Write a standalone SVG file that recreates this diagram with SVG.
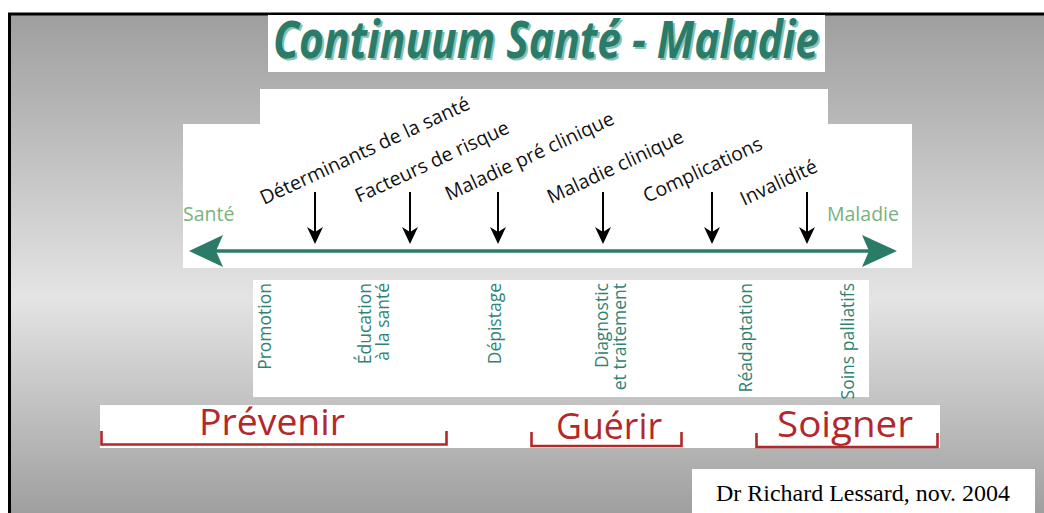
<svg xmlns="http://www.w3.org/2000/svg" width="1044" height="513" viewBox="0 0 1044 513">
  <defs>
    <linearGradient id="bg" x1="0" y1="13" x2="0" y2="513" gradientUnits="userSpaceOnUse">
      <stop offset="0" stop-color="#9e9e9e"/>
      <stop offset="0.57" stop-color="#e4e4e4"/>
      <stop offset="1" stop-color="#9f9f9f"/>
    </linearGradient>
  </defs>
  <style>
    .white{fill:#ffffff}
    .rot{font-family:"Open Sans","Noto Sans",sans-serif;font-size:19.5px;fill:#111111}
    .vert{font-family:"Open Sans","Noto Sans",sans-serif;font-size:17.5px;fill:#2f8373;text-anchor:end}
    .end{font-family:"Open Sans","Noto Sans",sans-serif;font-size:19.5px;fill:#78b27c}
    .red{font-family:"Open Sans","Noto Sans",sans-serif;font-size:36px;fill:#b3282a;text-anchor:middle}
    .ttl{font-family:"Open Sans","Noto Sans",sans-serif;font-size:52px;font-weight:bold;font-style:italic;text-anchor:middle}
    .brk{fill:none;stroke:#b3282a;stroke-width:2.6}
    .dline{stroke:#000000;stroke-width:2}
    .dhead{fill:#000000}
    .axis{stroke:#2b7b69;stroke-width:3.5}
    .ahead{fill:#2b7b69}
  </style>

  <rect x="0" y="0" width="1044" height="513" fill="#ffffff"/>
  <rect x="9" y="13" width="1035" height="500" fill="url(#bg)"/>
  <path d="M9.5,513 V14 H1044" fill="none" stroke="#000000" stroke-width="3"/>

  <g id="title">
    <rect class="white" x="268" y="15" width="557" height="57"/>
    <text class="ttl" x="548" y="60" fill="#8cc2b2" textLength="546" lengthAdjust="spacingAndGlyphs">Continuum Santé - Maladie</text>
    <text class="ttl" x="546" y="58" fill="#2a7c6a" textLength="546" lengthAdjust="spacingAndGlyphs">Continuum Santé - Maladie</text>
  </g>

  <g id="timeline-panel">
    <rect class="white" x="260" y="89" width="568" height="40"/>
    <rect class="white" x="183" y="124" width="729" height="144"/>
  </g>

  <g id="sante">
    <text class="end" x="183" y="221">Santé</text>
  </g>
  <g id="maladie">
    <text class="end" x="827" y="221">Maladie</text>
  </g>

  <g id="determinants">
    <text class="rot" transform="translate(264,205) rotate(-25)">Déterminants de la santé</text>
  </g>
  <g id="facteurs">
    <text class="rot" transform="translate(359,203) rotate(-25)">Facteurs de risque</text>
  </g>
  <g id="preclinique">
    <text class="rot" transform="translate(449,201) rotate(-25)">Maladie pré clinique</text>
  </g>
  <g id="clinique">
    <text class="rot" transform="translate(551,204) rotate(-25)">Maladie clinique</text>
  </g>
  <g id="complications">
    <text class="rot" transform="translate(647,203) rotate(-25)">Complications</text>
  </g>
  <g id="invalidite">
    <text class="rot" transform="translate(744,206) rotate(-25)">Invalidité</text>
  </g>

  <g id="connectors">
    <g class="axis-arrow">
      <line class="axis" x1="212" y1="251" x2="874" y2="251"/>
      <path class="ahead" d="M189,251 L223,235 L216,251 L223,267 Z"/>
      <path class="ahead" d="M897,251 L862,235 L869,251 L862,267 Z"/>
    </g>
    <g class="down-arrows">
      <line class="dline" x1="315" y1="192" x2="315" y2="234"/>
      <path class="dhead" d="M315,244 L307,227 L315,232 L323,227 Z"/>
      <line class="dline" x1="410" y1="192" x2="410" y2="234"/>
      <path class="dhead" d="M410,244 L402,227 L410,232 L418,227 Z"/>
      <line class="dline" x1="498" y1="192" x2="498" y2="234"/>
      <path class="dhead" d="M498,244 L490,227 L498,232 L506,227 Z"/>
      <line class="dline" x1="603" y1="192" x2="603" y2="234"/>
      <path class="dhead" d="M603,244 L595,227 L603,232 L611,227 Z"/>
      <line class="dline" x1="712" y1="192" x2="712" y2="234"/>
      <path class="dhead" d="M712,244 L704,227 L712,232 L720,227 Z"/>
      <line class="dline" x1="807" y1="192" x2="807" y2="234"/>
      <path class="dhead" d="M807,244 L799,227 L807,232 L815,227 Z"/>
    </g>
  </g>

  <g id="actions-panel">
    <rect class="white" x="253" y="280" width="616" height="117"/>
  </g>
  <g id="promotion">
    <text class="vert" transform="translate(271,283) rotate(-90)">Promotion</text>
  </g>
  <g id="education">
    <text class="vert" transform="translate(371,283) rotate(-90)">Éducation</text>
    <text class="vert" transform="translate(389,283) rotate(-90)">à la santé</text>
  </g>
  <g id="depistage">
    <text class="vert" transform="translate(501,283) rotate(-90)">Dépistage</text>
  </g>
  <g id="diagnostic">
    <text class="vert" transform="translate(608,283) rotate(-90)">Diagnostic</text>
    <text class="vert" transform="translate(626,283) rotate(-90)">et traitement</text>
  </g>
  <g id="readaptation">
    <text class="vert" transform="translate(752,283) rotate(-90)">Réadaptation</text>
  </g>
  <g id="palliatifs">
    <text class="vert" transform="translate(854,283) rotate(-90)">Soins palliatifs</text>
  </g>

  <g id="phases-panel">
    <rect class="white" x="100" y="405" width="840" height="43"/>
  </g>
  <g id="prevenir">
    <text class="red" x="272" y="435" textLength="146" lengthAdjust="spacingAndGlyphs">Prévenir</text>
    <path class="brk" d="M101.5,431 V444.5 H446.5 V431"/>
  </g>
  <g id="guerir">
    <text class="red" x="609" y="439" textLength="106" lengthAdjust="spacingAndGlyphs">Guérir</text>
    <path class="brk" d="M531.5,432 V446 H681.5 V432"/>
  </g>
  <g id="soigner">
    <text class="red" x="845" y="437" textLength="136" lengthAdjust="spacingAndGlyphs">Soigner</text>
    <path class="brk" d="M756.5,433 V447 H937.5 V433"/>
  </g>

  <g id="credit">
    <rect class="white" x="692" y="469" width="343" height="44"/>
    <text x="716" y="501" font-family="Liberation Serif, Times New Roman, serif" font-size="23" fill="#000000" textLength="294" lengthAdjust="spacingAndGlyphs">Dr Richard Lessard, nov. 2004</text>
  </g>
</svg>
